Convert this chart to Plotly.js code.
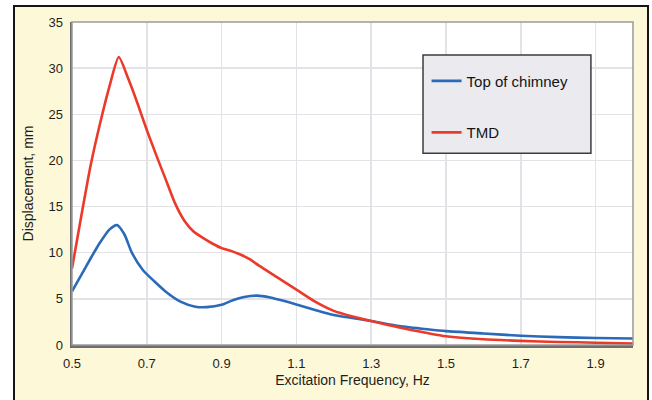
<!DOCTYPE html>
<html>
<head>
<meta charset="utf-8">
<script src="https://cdn.plot.ly/plotly-3.0.1.min.js"></script>
<style>
html,body{margin:0;padding:0;background:#ffffff;width:652px;height:400px;overflow:hidden;}
#frame{position:absolute;left:13px;top:5px;width:636px;height:410px;box-sizing:border-box;border:2px solid #151515;background:#fdf8d8;}
#chart{position:absolute;left:0;top:0;width:652px;height:400px;}
</style>
</head>
<body>
<div id="frame"></div>
<div id="chart"></div>
<script>
// Excitation frequency (Hz) sample points
const freqTMD = [0.500,0.525,0.550,0.575,0.600,0.625,0.650,0.675,0.700,0.725,0.750,0.775,0.800,0.825,0.850,0.875,0.900,0.925,0.950,0.975,1.000,1.050,1.100,1.150,1.200,1.250,1.300,1.375,1.450,1.500,1.600,1.700,1.800,1.900,2.000];
const dispTMD = [8.3,14.0,19.5,24.0,28.0,31.2,28.9,26.2,23.3,20.6,18.0,15.4,13.5,12.3,11.6,11.0,10.5,10.2,9.8,9.3,8.6,7.3,6.0,4.7,3.7,3.1,2.6,1.9,1.3,0.95,0.62,0.45,0.33,0.25,0.15];

const freqTop = [0.500,0.525,0.550,0.575,0.600,0.620,0.640,0.660,0.690,0.720,0.750,0.790,0.830,0.860,0.900,0.930,0.960,0.995,1.030,1.055,1.100,1.150,1.200,1.300,1.375,1.450,1.500,1.600,1.700,1.800,1.900,2.000];
const dispTop = [5.8,7.6,9.4,11.1,12.5,13.0,12.0,10.0,8.1,6.9,5.8,4.7,4.15,4.1,4.35,4.85,5.2,5.35,5.15,4.9,4.4,3.8,3.25,2.6,2.05,1.7,1.5,1.25,1.0,0.85,0.76,0.7];

const seriesNames = ["Top of chimney", "TMD"];
const xTickVals = [0.5,0.7,0.9,1.1,1.3,1.5,1.7,1.9];
const xTickText = ["0.5","0.7","0.9","1.1","1.3","1.5","1.7","1.9"];
const yTickVals = [0,5,10,15,20,25,30,35];
const yTickText = ["0","5","10","15","20","25","30","35"];

const font = "Liberation Sans, Arial, Helvetica, sans-serif";

const traces = [
  {x: freqTop, y: dispTop, name: seriesNames[0], type: "scatter", mode: "lines",
   line: {color: "#2a6ab8", width: 2.6, shape: "spline", smoothing: 0.6}, legendgroup: "a"},
  {x: freqTMD, y: dispTMD, name: seriesNames[1], type: "scatter", mode: "lines",
   line: {color: "#ec3a2a", width: 2.6, shape: "spline", smoothing: 0.6}, legendgroup: "b"}
];

const layout = {
  width: 652, height: 400,
  margin: {l: 72, r: 19, t: 22, b: 55},
  paper_bgcolor: "rgba(0,0,0,0)",
  plot_bgcolor: "#ffffff",
  font: {family: font, size: 13, color: "#1e1e1e"},
  showlegend: true,
  legend: {
    x: 0.632, y: 0.868, xanchor: "left", yanchor: "top",
    bgcolor: "rgba(0,0,0,0)", borderwidth: 0,
    font: {family: font, size: 15, color: "#141414"},
    traceorder: "grouped", tracegroupgap: 29
  },
  xaxis: {
    range: [0.5, 2.0],
    tickmode: "array", tickvals: xTickVals, ticktext: xTickText,
    ticks: "outside", ticklen: 5, tickcolor: "rgba(0,0,0,0)",
    showgrid: true, gridcolor: "#e2e2e7", gridwidth: 1.5,
    showline: true, linecolor: "#6e6e6e", linewidth: 2.5,
    zeroline: false,
    tickfont: {family: font, size: 13, color: "#1e1e1e"},
    title: {text: "Excitation Frequency, Hz", font: {family: font, size: 14, color: "#1e1e1e"}, standoff: 5}
  },
  yaxis: {
    range: [0, 35],
    tickmode: "array", tickvals: yTickVals, ticktext: yTickText,
    ticks: "outside", ticklen: 4, tickcolor: "rgba(0,0,0,0)",
    showgrid: true, gridcolor: "#e2e2e7", gridwidth: 1.5,
    showline: true, linecolor: "#6e6e6e", linewidth: 2.5,
    zeroline: false,
    tickfont: {family: font, size: 13, color: "#1e1e1e"},
    title: {text: "Displacement, mm", font: {family: font, size: 14, color: "#1e1e1e"}, standoff: 12}
  },
  shapes: [
    {type: "rect", xref: "paper", yref: "paper", x0: 0, x1: 1, y0: 0, y1: 1,
     line: {color: "#9a9a9a", width: 1.5}, fillcolor: "rgba(0,0,0,0)", layer: "above"},
    {type: "rect", xref: "paper", yref: "paper", x0: 0.6257, x1: 0.925, y0: 0.594, y1: 0.8978,
     line: {color: "#3c3c3c", width: 1.5}, fillcolor: "#ebebef", layer: "above"}
  ]
};

Plotly.newPlot("chart", traces, layout, {displayModeBar: false, staticPlot: true});
</script>
</body>
</html>
